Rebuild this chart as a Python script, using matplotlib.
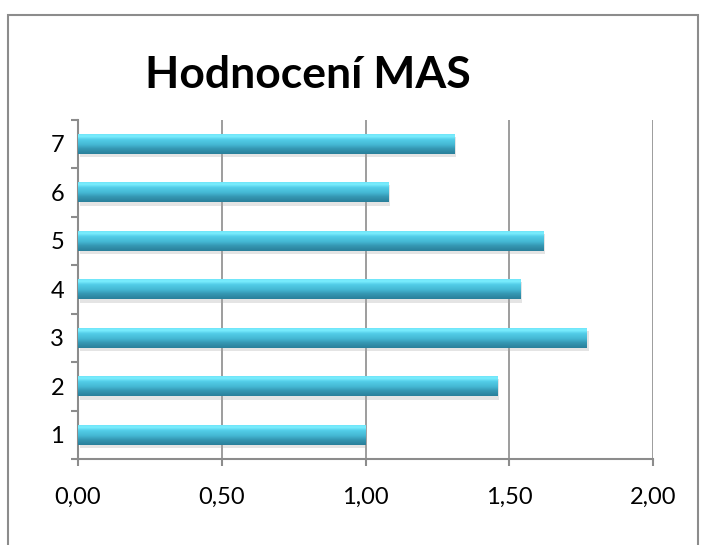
import numpy as np
import matplotlib.pyplot as plt
from matplotlib.patches import Rectangle
from matplotlib.colors import LinearSegmentedColormap

categories = ["1", "2", "3", "4", "5", "6", "7"]
values = [1.00, 1.46, 1.77, 1.54, 1.62, 1.08, 1.31]
x_ticks = [0.0, 0.5, 1.0, 1.5, 2.0]
x_labels = ["0,00", "0,50", "1,00", "1,50", "2,00"]
title = "Hodnocení MAS"

plt.rcParams['font.family'] = ['Lato', 'DejaVu Sans']

W, H = 704, 545
fig = plt.figure(figsize=(W / 100, H / 100), dpi=100)
fig.patch.set_facecolor("white")

# outer chart frame
frame = Rectangle((8 / W, -0.05), 690 / W, 1.05 - 15 / H, transform=fig.transFigure,
                  fill=False, edgecolor="#8c8c8c", linewidth=1.5)
fig.patches.append(frame)

ax = fig.add_axes([78 / W, (H - 459) / H, (653 - 78) / W, (459 - 119.5) / H])

ypos = np.arange(1, len(categories) + 1)
bar_h = 0.42

# soft shadow under bars
ax.barh(ypos - 0.07, values, height=bar_h, left=0.006, color="#a8a8a8", alpha=0.3,
        edgecolor="none", zorder=2)
bars = ax.barh(ypos, values, height=bar_h, color="#4cc6e0", edgecolor="none", zorder=3)

cmap = LinearSegmentedColormap.from_list(
    "bevel", [(0.0, "#2a7f9a"), (0.25, "#3597b3"), (0.45, "#45b8d4"),
              (0.7, "#52cde8"), (0.85, "#7cefff"), (1.0, "#6ae0f5")])
grad = np.linspace(0, 1, 64).reshape(-1, 1)
for b in bars:
    x0, y0 = b.get_x(), b.get_y()
    w, h = b.get_width(), b.get_height()
    im = ax.imshow(grad, cmap=cmap, aspect="auto", origin="lower",
                   extent=[x0, x0 + w, y0, y0 + h], zorder=4, interpolation="bicubic")
    im.set_clip_path(b)

ax.set_xlim(0, 2.0)
ax.set_ylim(0.5, len(categories) + 0.5)

ax.set_xticks(x_ticks)
ax.set_xticklabels(x_labels)
ax.set_yticks(ypos)
ax.set_yticklabels(categories)
ax.set_yticks(np.arange(0.5, len(categories) + 1, 1.0), minor=True)

ax.grid(axis="x", color="#8c8c8c", linewidth=1.2, zorder=0)
ax.set_axisbelow(True)

for s in ["top", "right"]:
    ax.spines[s].set_visible(False)
for s in ["left", "bottom"]:
    ax.spines[s].set_color("#8c8c8c")
    ax.spines[s].set_linewidth(1.5)

ax.tick_params(axis="x", which="major", length=5, width=1.5, color="#8c8c8c",
               labelsize=17, pad=15, labelcolor="black")
ax.tick_params(axis="y", which="major", length=0, labelsize=17, pad=10, labelcolor="black")
ax.tick_params(axis="y", which="minor", length=5, width=1.5, color="#8c8c8c")

fig.text(308 / W, 1 - 75 / H, title, ha="center", va="center",
         fontsize=32, fontweight="bold", color="black")

fig.savefig("out.png", dpi=100, facecolor="white")
